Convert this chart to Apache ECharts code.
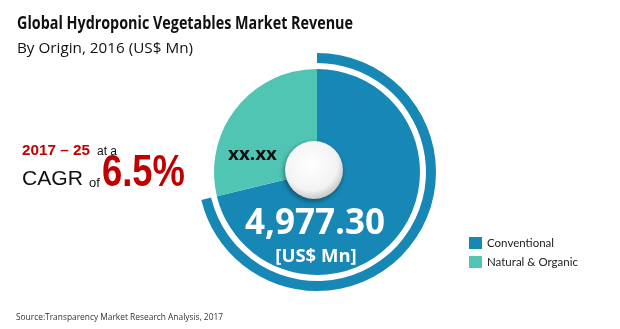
<!DOCTYPE html>
<html><head><meta charset="utf-8">
<script src="https://cdn.jsdelivr.net/npm/echarts@6/dist/echarts.min.js"></script>
<style>html,body{margin:0;padding:0;background:#fff}#c{width:620px;height:329px}</style>
</head><body><div id="c"></div>
<script>
const categories = ['Conventional', 'Natural & Organic'];
const values = [4977.30, 2010];
const colors = ['#1787b6', '#50c5b4'];
const titleText = 'Global Hydroponic Vegetables Market Revenue';
const subtitleText = 'By Origin, 2016 (US$ Mn)';
const sourceText = 'Source:Transparency Market Research Analysis, 2017';
const periodText = '2017 – 25';
const cagrText = '6.5%';
const mainValueText = '4,977.30';
const unitText = '[US$ Mn]';
const otherValueText = 'xx.xx';

const chart = echarts.init(document.getElementById('c'), null, {renderer: 'canvas'});
const center = [317, 172];
const F = '"Open Sans", "Liberation Sans", sans-serif';
const A = '"Liberation Sans", Arial, sans-serif';

const mctx = document.createElement('canvas').getContext('2d');
function measure(text, font, size, weight) {
  mctx.font = weight + ' ' + size + 'px ' + font;
  return mctx.measureText(text).width;
}
// baseline-positioned text; optional target width -> horizontal scale
function txt(x, baseline, text, font, size, weight, color, opts) {
  opts = opts || {};
  const align = opts.align || 'left';
  let sx = 1;
  if (opts.width) sx = opts.width / measure(text, font, size, weight);
  return {
    type: 'text', x: x, y: baseline - 0.3 * size, z: 100, scaleX: sx, scaleY: 1,
    style: {text: text, fontFamily: font, fontSize: size, fontWeight: weight, fill: color,
            verticalAlign: 'middle', align: align}
  };
}

chart.setOption({
  animation: false,
  legend: {
    orient: 'vertical', left: 469, top: 237, padding: 0, itemWidth: 13, itemHeight: 12, itemGap: 7,
    icon: 'rect', data: categories,
    textStyle: {fontFamily: 'Lato, "Open Sans", sans-serif', fontSize: 11.5, color: '#222'}
  },
  series: [
    {
      type: 'pie', center: center, radius: [0, 103], startAngle: 90, clockwise: true,
      silent: true, label: {show: false}, labelLine: {show: false},
      data: categories.map((c, i) => ({name: c, value: values[i], itemStyle: {color: colors[i]}}))
    },
    {
      type: 'pie', center: center, radius: [109, 119], startAngle: 90, clockwise: true,
      silent: true, label: {show: false}, labelLine: {show: false}, legendHoverLink: false,
      data: [
        {name: 'ring-a', value: values[0], itemStyle: {color: colors[0]}},
        {name: 'ring-b', value: values[1], itemStyle: {color: 'rgba(0,0,0,0)'}}
      ]
    },
    {
      type: 'pie', center: [center[0] - 3, center[1] - 2], radius: [0, 29], silent: true,
      label: {show: false}, labelLine: {show: false},
      data: [{name: 'hub', value: 1, itemStyle: {
        color: {type: 'radial', x: 0.45, y: 0.4, r: 0.6, colorStops: [
          {offset: 0, color: '#ffffff'}, {offset: 0.75, color: '#f3f3f3'}, {offset: 1, color: '#c9c9c9'}]},
        shadowBlur: 5, shadowColor: 'rgba(0,0,0,0.45)', shadowOffsetX: -1, shadowOffsetY: 2
      }}]
    }
  ],
  graphic: [
    txt(17, 29, titleText, F, 18, 'bold', '#111', {width: 336}),
    txt(17, 53, subtitleText, F, 14, 'normal', '#111', {width: 176}),
    txt(16, 320, sourceText, F, 9.5, 'normal', '#333', {width: 207}),
    txt(22, 155, periodText, A, 15, 'bold', '#c00000', {width: 68}),
    txt(97, 155, 'at a', A, 12, 'normal', '#111'),
    txt(22, 186, 'CAGR', A, 21, 'normal', '#111', {width: 61}),
    txt(89, 187, 'of', A, 13, 'normal', '#111'),
    txt(102, 187, cagrText, A, 44, 'bold', '#c00000', {width: 83}),
    txt(228, 160, otherValueText, F, 18, 'bold', '#111', {width: 49}),
    txt(315, 235, mainValueText, F, 35, 'bold', '#fff', {align: 'center'}),
    txt(316, 262, unitText, F, 18.5, 'bold', '#fff', {align: 'center'})
  ]
});
</script></body></html>
